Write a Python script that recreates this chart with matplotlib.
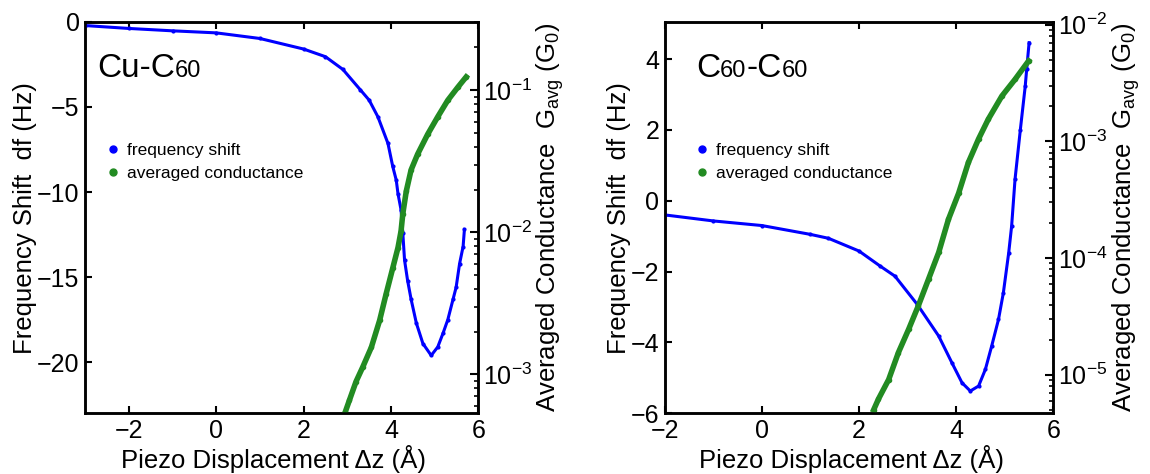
import matplotlib
matplotlib.use("Agg")
import matplotlib.pyplot as plt
from matplotlib.lines import Line2D

plt.rcParams["font.family"] = ["Liberation Sans", "DejaVu Sans"]
plt.rcParams["mathtext.fontset"] = "custom"
plt.rcParams["mathtext.rm"] = "Liberation Sans"
plt.rcParams["mathtext.it"] = "Liberation Sans"
plt.rcParams["mathtext.default"] = "regular"

BLUE = "#0000ff"
GREEN = "#228b22"

# ── Cu-C60 ──────────────────────────────────────────────
cu_df_z = [-3.0, -2.0, -1.0, 0.0, 1.0, 2.0, 2.5, 2.9, 3.3, 3.5, 3.7, 3.93,
           4.04, 4.12, 4.16, 4.23, 4.27, 4.31, 4.38, 4.46, 4.58, 4.73, 4.92,
           5.07, 5.19, 5.30, 5.42, 5.49, 5.57, 5.65, 5.68]
cu_df = [-0.22, -0.39, -0.53, -0.65, -0.98, -1.6, -2.05, -2.8, -4.0, -4.6,
         -5.58, -7.14, -8.5, -9.3, -10.1, -11.05, -12.4, -14.0, -15.2, -16.3,
         -17.7, -18.9, -19.6, -19.1, -18.3, -17.5, -16.3, -15.6, -14.2, -13.2,
         -12.2]
cu_g_z = [2.95, 3.05, 3.2, 3.35, 3.55, 3.74, 3.89, 4.04, 4.16, 4.23, 4.27,
          4.35, 4.46, 4.61, 4.84, 5.07, 5.30, 5.53, 5.72]
cu_g = [5.4e-4, 6.6e-4, 8.9e-4, 1.12e-3, 1.55e-3, 2.4e-3, 3.7e-3, 5.6e-3,
        7.8e-3, 1.02e-2, 1.35e-2, 1.95e-2, 2.75e-2, 3.55e-2, 4.9e-2, 6.5e-2,
        8.5e-2, 0.105, 0.124]

# ── C60-C60 ─────────────────────────────────────────────
cc_df_z = [-2.0, -1.0, 0.0, 1.0, 1.37, 2.0, 2.43, 2.74, 3.2, 3.64, 3.91,
           4.12, 4.29, 4.46, 4.60, 4.73, 4.87, 4.97, 5.08, 5.14, 5.21, 5.32,
           5.42, 5.45, 5.50]
cc_df = [-0.40, -0.57, -0.70, -0.95, -1.06, -1.42, -1.84, -2.13, -2.93,
         -3.82, -4.57, -5.14, -5.37, -5.23, -4.76, -4.10, -3.35, -2.60, -1.47,
         -0.72, 0.60, 2.01, 3.23, 3.71, 4.46]
cc_g_z = [2.30, 2.40, 2.61, 2.81, 3.02, 3.22, 3.43, 3.64, 3.84, 4.05, 4.25,
          4.46, 4.66, 4.94, 5.21, 5.49]
cc_g = [5.0e-6, 6.2e-6, 9.1e-6, 1.55e-5, 2.45e-5, 3.9e-5, 6.6e-5, 1.12e-4,
        2.15e-4, 3.6e-4, 6.6e-4, 1.05e-3, 1.55e-3, 2.45e-3, 3.4e-3, 4.9e-3]

panels = [
    dict(rect=[0.074, 0.128, 0.342, 0.826], z=cu_df_z, df=cu_df, gz=cu_g_z, g=cu_g,
         xlim=(-3, 6), ylim=(-23, 0), yticks=[0, -5, -10, -15, -20],
         glim=(5.32e-4, 0.303), leg_x=0.005,
         title=[("Cu-C", 24), ("60", 17)]),
    dict(rect=[0.578, 0.128, 0.338, 0.826], z=cc_df_z, df=cc_df, gz=cc_g_z, g=cc_g,
         xlim=(-2, 6), ylim=(-6, 5.05), yticks=[4, 2, 0, -2, -4, -6],
         glim=(4.67e-6, 1.06e-2), leg_x=0.03,
         title=[("C", 24), ("60", 17), ("-C", 24), ("60", 17)]),
]

fig = plt.figure(figsize=(11.5, 4.74), dpi=100)

for p in panels:
    ax = fig.add_axes(p["rect"])
    ax2 = ax.twinx()

    ax.plot(p["z"], p["df"], color=BLUE, lw=2.2, marker="o", ms=2, zorder=3)
    ax2.plot(p["gz"], p["g"], color=GREEN, lw=4, marker="o", ms=3, zorder=2)

    ax.set_xlim(*p["xlim"])
    ax.set_ylim(*p["ylim"])
    ax.set_xticks([-2, 0, 2, 4, 6])
    ax.set_yticks(p["yticks"])
    ax2.set_yscale("log")
    ax2.set_ylim(*p["glim"])

    for a in (ax, ax2):
        for sp in a.spines.values():
            sp.set_linewidth(1.8)
    ax.tick_params(direction="in", length=5, width=1.5, labelsize=18,
                   top=True, pad=4)
    ax2.tick_params(which="major", direction="in", length=6, width=1.5,
                    labelsize=18, pad=3)
    ax2.tick_params(which="minor", direction="in", length=3, width=1.2)

    ax.set_xlabel("Piezo Displacement \u0394z (\u00c5)", fontsize=18.5)
    ax.xaxis.set_label_coords(0.48, -0.082)
    ax.set_ylabel("Frequency Shift  df (Hz)", fontsize=18.5, labelpad=0)
    ax2.set_ylabel(r"Averaged Conductance  G$_{avg}$ (G$_0$)", fontsize=18.5,
                   labelpad=2)

    handles = [
        Line2D([], [], color=BLUE, marker="o", ls="none", ms=5, label="frequency shift"),
        Line2D([], [], color=GREEN, marker="o", ls="none", ms=5, label="averaged conductance"),
    ]
    ax.legend(handles=handles, loc="upper left", bbox_to_anchor=(p["leg_x"], 0.73),
              frameon=False, fontsize=12.5, handletextpad=0.2,
              handlelength=1.2, labelspacing=0.45)

    # panel title: big letters with smaller "60" on the same baseline
    prev = None
    for txt, fs in p["title"]:
        if prev is None:
            prev = ax.text(0.03 if len(p["title"]) == 2 else 0.08, 0.86, txt,
                           transform=ax.transAxes, fontsize=fs, va="baseline")
        else:
            dy = 1.5 if fs < 20 else -1.5
            prev = ax.annotate(txt, xy=(1, 0), xycoords=prev, xytext=(0, dy),
                               textcoords="offset points", fontsize=fs,
                               va="bottom", ha="left")

fig.savefig("out.png", dpi=100)
